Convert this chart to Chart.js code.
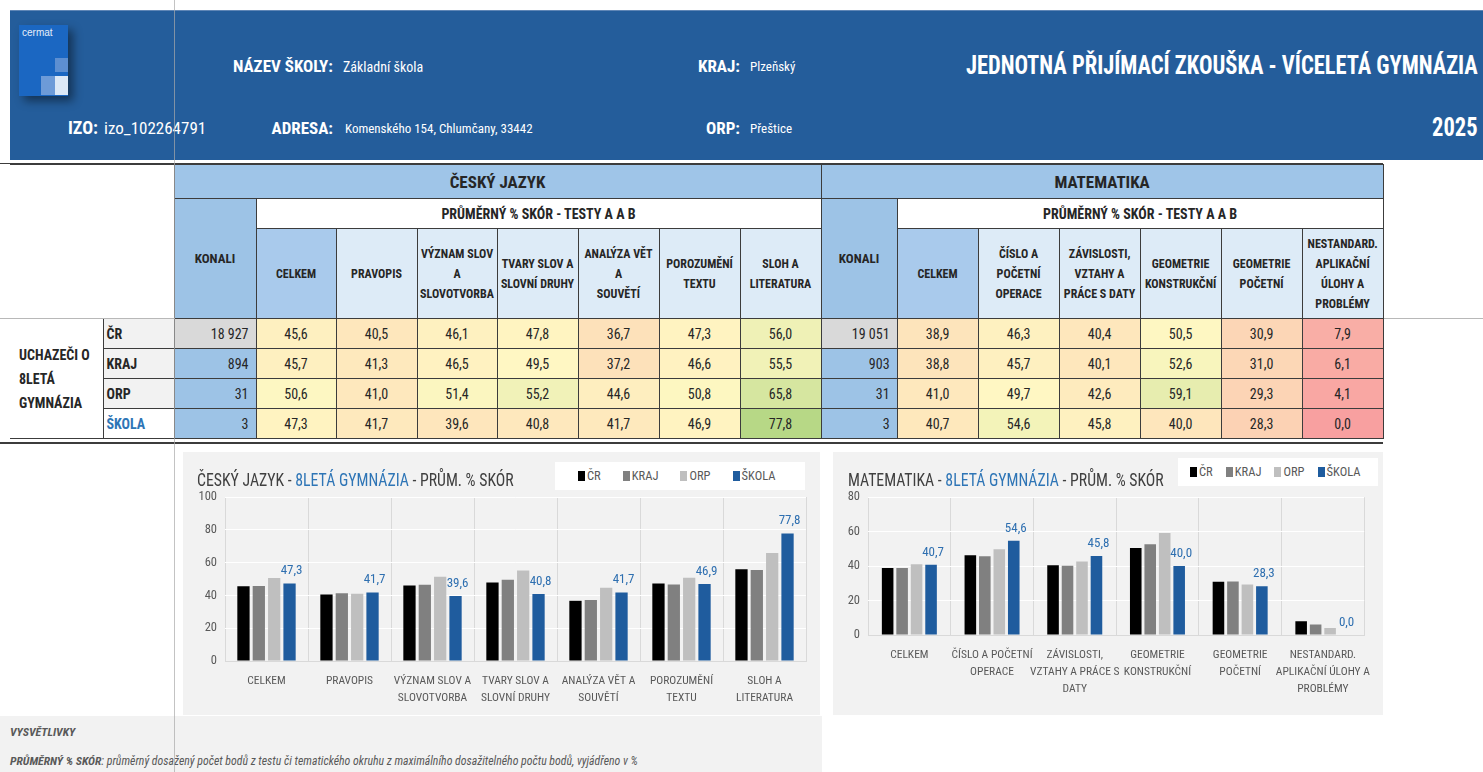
<!DOCTYPE html>
<html lang="cs">
<head>
<meta charset="utf-8">
<title>Jednotná přijímací zkouška - víceletá gymnázia 2025</title>
<script src="https://cdn.jsdelivr.net/npm/chart.js@4.4.1/dist/chart.umd.min.js"></script>
<style>
  body { margin: 0; width: 1483px; height: 772px; overflow: hidden; background: #fff; position: relative;
         font-family: "Liberation Sans Narrow", "Roboto Condensed", "DejaVu Sans Condensed", sans-serif; color: #262626; }
  .abs { position: absolute; white-space: nowrap; }
  #band { left: 10px; top: 10px; width: 1473px; height: 150px; background: #245d9b; border-top: 1px solid #5f86b6; box-sizing: border-box; }
  #logo { left: 19px; top: 25px; width: 49px; height: 71px; background: #1b67c2; box-shadow: 5px 5px 9px rgba(0,0,0,0.45); }
  #logo span { position: absolute; left: 3px; top: 2px; color: #e6eefa; font: 10px "Liberation Sans", Arial, sans-serif; }
  .sq { position: absolute; }
  .hl { color: #fff; font-weight: bold; font-size: 17px; line-height: 20px; }
  .hv { color: #fff; font-size: 14px; line-height: 20px; }
  .big { color: #fff; font-weight: bold; font-size: 25px; line-height: 30px; transform: scaleX(0.9); transform-origin: right center; }

  #tbl { position: absolute; left: 10px; top: 164px; border-collapse: collapse; table-layout: fixed; width: 1373px; }
  #tbl td { border: 1px solid #3c3c3c; padding: 0 2px; text-align: center; overflow: hidden; box-sizing: border-box; }
  #tbl td.blank { border-left: none; border-bottom: 1px solid #b8b8b8; background: #fff; }
  #tbl td.subj { background: #9fc5e8; font-weight: bold; font-size: 17px; }
  #tbl td.avg { background: #fff; font-weight: bold; font-size: 14px; }
  #tbl td.konh { background: #9dc3e6; font-weight: bold; font-size: 13px; vertical-align: middle; }
  #tbl td.hd { background: #ddebf7; font-weight: bold; font-size: 12px; line-height: 20px; }
  #tbl td.hd.tot { background: #a9caec; }
  #tbl td.grp { border-left: none; background: #fff; text-align: left; padding-left: 9px; font-weight: bold; font-size: 14px; line-height: 24px; }
  #tbl td.who { background: #f2f2f2; text-align: left; padding-left: 3px; font-weight: bold; font-size: 14px; }
  #tbl td.who.me { background: #fff; color: #2e75b6; }
  #tbl td.kon { background: #9dc3e6; text-align: right; padding-right: 7px; font-size: 14px; }
  #tbl td.kon.cr { background: #d9d9d9; }
  #tbl td.val { font-size: 14px; }
  .panel { position: absolute; background: #f2f2f2; }
  .ctitle { font-size: 19px; line-height: 24px; color: #404040; transform: scaleX(0.83); transform-origin: left center; }
  .ctitle b { font-weight: normal; color: #2e75b6; }
  .legend { position: absolute; background: #fff; font-size: 12.5px; color: #595959; line-height: 28px; display: flex; white-space: nowrap; box-sizing: border-box; }
  .legend span { white-space: nowrap; }
  .legend i { display: inline-block; width: 7px; height: 10px; margin-right: 2px; vertical-align: -1px; }
  #foot { left: 0; top: 716px; width: 822px; height: 56px; background: #f2f2f2; }
  .ft { font-style: italic; font-size: 11.8px; color: #595959; }
</style>
</head>
<body>

<div id="band" class="abs"></div>
<div id="logo" class="abs"><span>cermat</span>
  <div class="sq" style="left:36px;top:33px;width:13px;height:14px;background:#5d8fd1"></div>
  <div class="sq" style="left:22px;top:51px;width:14px;height:19px;background:#6d9bd8"></div>
  <div class="sq" style="left:36px;top:51px;width:13px;height:19px;background:#dce8f6"></div>
</div>

<div class="abs hl" style="right:1150px;top:56px">NÁZEV ŠKOLY:</div>
<div class="abs hv" style="left:343px;top:57px">Základní škola</div>
<div class="abs hl" style="right:743px;top:56px">KRAJ:</div>
<div class="abs hv" style="left:750px;top:57px;font-size:13px">Plzeňský</div>
<div class="abs big" style="right:5px;top:51px">JEDNOTNÁ PŘIJÍMACÍ ZKOUŠKA - VÍCELETÁ GYMNÁZIA</div>

<div class="abs hl" style="left:68px;top:118px;font-size:18px">IZO:</div>
<div class="abs hv" style="left:104px;top:118px;font-size:17px">izo_102264791</div>
<div class="abs hl" style="right:1150px;top:118px">ADRESA:</div>
<div class="abs hv" style="left:345px;top:119px;font-size:13px">Komenského 154, Chlumčany, 33442</div>
<div class="abs hl" style="right:743px;top:118px">ORP:</div>
<div class="abs hv" style="left:750px;top:119px;font-size:13px">Přeštice</div>
<div class="abs big" style="right:5px;top:113px">2025</div>

<div class="abs" style="left:0;top:318px;width:1483px;height:1px;background:#b8b8b8"></div>
<div class="abs" style="left:0;top:163px;width:1383px;height:1px;background:#3c3c3c"></div>
<table id="tbl"></table>
<div class="abs" style="left:0;top:442px;width:1383px;height:2px;background:#3c3c3c"></div>

<div class="panel" style="left:183px;top:452px;width:637px;height:263px">
  <canvas id="czChart"></canvas>
</div>
<div class="abs ctitle" style="left:197px;top:468px">ČESKÝ JAZYK - <b>8LETÁ GYMNÁZIA</b> - PRŮM. % SKÓR</div>
<div id="czLegend" class="legend" style="left:555px;top:462px;width:250px;height:28px;padding-left:23px;gap:22px"></div>

<div class="panel" style="left:833px;top:452px;width:550px;height:263px">
  <canvas id="mChart"></canvas>
</div>
<div class="abs ctitle" style="left:848px;top:468px">MATEMATIKA - <b>8LETÁ GYMNÁZIA</b> - PRŮM. % SKÓR</div>
<div id="mLegend" class="legend" style="left:1178px;top:458px;width:200px;height:28px;padding-left:12px;gap:13px"></div>

<div id="foot" class="abs"></div>
<div class="abs ft" style="left:10px;top:725px;font-weight:bold">VYSVĚTLIVKY</div>
<div class="abs ft" style="left:10px;top:754px"><b>PRŮMĚRNÝ % SKÓR</b>: průměrný dosažený počet bodů z testu či tematického okruhu z maximálního dosažitelného počtu bodů, vyjádřeno v %</div>

<div class="abs" style="left:174px;top:0;width:1px;height:772px;background:rgba(170,170,170,0.7)"></div>

<script>
const FONT = '"Liberation Sans Narrow", "Roboto Condensed", "DejaVu Sans Condensed", sans-serif';

// skupiny uchazečů
const groups = ['ČR', 'KRAJ', 'ORP', 'ŠKOLA'];
const groupColors = ['#000000', '#808080', '#bfbfbf', '#1f5c9e'];

// český jazyk
const czTableHeads = [['CELKEM'], ['PRAVOPIS'], ['VÝZNAM SLOV', 'A', 'SLOVOTVORBA'], ['TVARY SLOV A', 'SLOVNÍ DRUHY'],
  ['ANALÝZA VĚT A', 'SOUVĚTÍ'], ['POROZUMĚNÍ', 'TEXTU'], ['SLOH A', 'LITERATURA']];
const czLabels = [['CELKEM'], ['PRAVOPIS'], ['VÝZNAM SLOV A', 'SLOVOTVORBA'], ['TVARY SLOV A', 'SLOVNÍ DRUHY'],
  ['ANALÝZA VĚT A', 'SOUVĚTÍ'], ['POROZUMĚNÍ', 'TEXTU'], ['SLOH A', 'LITERATURA']];
const czKonali = ['18 927', '894', '31', '3'];
const czCR = [45.6, 40.5, 46.1, 47.8, 36.7, 47.3, 56.0];
const czKraj = [45.7, 41.3, 46.5, 49.5, 37.2, 46.6, 55.5];
const czOrp = [50.6, 41.0, 51.4, 55.2, 44.6, 50.8, 65.8];
const czSkola = [47.3, 41.7, 39.6, 40.8, 41.7, 46.9, 77.8];
const czTicks = [0, 20, 40, 60, 80, 100];

// matematika
const mTableHeads = [['CELKEM'], ['ČÍSLO A', 'POČETNÍ', 'OPERACE'], ['ZÁVISLOSTI,', 'VZTAHY A', 'PRÁCE S DATY'],
  ['GEOMETRIE', 'KONSTRUKČNÍ'], ['GEOMETRIE', 'POČETNÍ'], ['NESTANDARD.', 'APLIKAČNÍ', 'ÚLOHY A', 'PROBLÉMY']];
const mLabels = [['CELKEM'], ['ČÍSLO A POČETNÍ', 'OPERACE'], ['ZÁVISLOSTI,', 'VZTAHY A PRÁCE S', 'DATY'],
  ['GEOMETRIE', 'KONSTRUKČNÍ'], ['GEOMETRIE', 'POČETNÍ'], ['NESTANDARD.', 'APLIKAČNÍ ÚLOHY A', 'PROBLÉMY']];
const mKonali = ['19 051', '903', '31', '3'];
const mCR = [38.9, 46.3, 40.4, 50.5, 30.9, 7.9];
const mKraj = [38.8, 45.7, 40.1, 52.6, 31.0, 6.1];
const mOrp = [41.0, 49.7, 42.6, 59.1, 29.3, 4.1];
const mSkola = [40.7, 54.6, 45.8, 40.0, 28.3, 0.0];
const mTicks = [0, 20, 40, 60, 80];

const fmt = (v) => v.toFixed(1).replace('.', ',');

// barevná škála buněk (červená - žlutá - zelená)
const scoreColor = (v) => {
	const red = [248, 160, 160], yel = [255, 248, 195], grn = [125, 190, 85];
	let a, b, t;
	if (v <= 50) { a = red; b = yel; t = v / 50; } else { a = yel; b = grn; t = (v - 50) / 50; }
	const c = a.map((x, i) => Math.round(x + (b[i] - x) * t));
	return `rgb(${c[0]},${c[1]},${c[2]})`;
};

const buildTable = () => {
	const widths = [93, 71, 82, 80, 81, 80, 81, 81, 81, 81, 76, 81, 81, 81, 81, 81, 81];
	let h = '<colgroup>' + widths.map((w) => `<col style="width:${w}px">`).join('') + '</colgroup>';
	h += '<tr style="height:34px"><td class="blank" colspan="2" rowspan="3"></td>'
		+ `<td class="subj" colspan="${czTableHeads.length + 1}">ČESKÝ JAZYK</td>`
		+ `<td class="subj" colspan="${mTableHeads.length + 1}">MATEMATIKA</td></tr>`;
	h += '<tr style="height:30px"><td class="konh" rowspan="2">KONALI</td>'
		+ `<td class="avg" colspan="${czTableHeads.length}">PRŮMĚRNÝ % SKÓR - TESTY A A B</td>`
		+ '<td class="konh" rowspan="2">KONALI</td>'
		+ `<td class="avg" colspan="${mTableHeads.length}">PRŮMĚRNÝ % SKÓR - TESTY A A B</td></tr>`;
	const head = (lines, i) => `<td class="hd${i === 0 ? ' tot' : ''}">${lines.join('<br>')}</td>`;
	h += '<tr style="height:90px">' + czTableHeads.map(head).join('') + mTableHeads.map(head).join('') + '</tr>';
	const cz = [czCR, czKraj, czOrp, czSkola];
	const m = [mCR, mKraj, mOrp, mSkola];
	groups.forEach((g, r) => {
		h += '<tr style="height:30px">';
		if (r === 0) h += `<td class="grp" rowspan="${groups.length}">UCHAZEČI O<br>8LETÁ<br>GYMNÁZIA</td>`;
		h += `<td class="who${r === 3 ? ' me' : ''}">${g}</td>`;
		h += `<td class="kon${r === 0 ? ' cr' : ''}">${czKonali[r]}</td>`;
		cz[r].forEach((v) => { h += `<td class="val" style="background:${scoreColor(v)}">${fmt(v)}</td>`; });
		h += `<td class="kon${r === 0 ? ' cr' : ''}">${mKonali[r]}</td>`;
		m[r].forEach((v) => { h += `<td class="val" style="background:${scoreColor(v)}">${fmt(v)}</td>`; });
		h += '</tr>';
	});
	document.getElementById('tbl').innerHTML = h;
};

const buildLegend = (id) => {
	const el = document.getElementById(id);
	el.innerHTML = groups.map((g, i) =>
		`<span><i style="background:${groupColors[i]}"></i>${g}</span>`).join('');
};

// popisky hodnot jen pro školu
const schoolLabels = {
	id: 'schoolLabels',
	afterDatasetsDraw(chart) {
		const ds = chart.data.datasets.length - 1;
		const meta = chart.getDatasetMeta(ds);
		const ctx = chart.ctx;
		ctx.save();
		ctx.font = '13px ' + FONT;
		ctx.fillStyle = '#2e6fb0';
		ctx.textAlign = 'center';
		ctx.textBaseline = 'bottom';
		meta.data.forEach((bar, i) => {
			ctx.fillText(fmt(chart.data.datasets[ds].data[i]), bar.x + 2, bar.y - 6);
		});
		ctx.restore();
	},
};

const creatinChart = (canvasId, labels, series, ticks, box) => {
	const ctx = document.getElementById(canvasId);
	new Chart(ctx, {
		type: 'bar',
		data: {
			labels: labels,
			datasets: series.map((data, i) => ({
				label: groups[i],
				data: data,
				backgroundColor: groupColors[i],
				categoryPercentage: box.cat,
				barPercentage: 0.8,
			})),
		},
		options: {
			responsive: true,
			maintainAspectRatio: false,
			animation: false,
			layout: { padding: { top: 45, right: box.right, left: 0, bottom: 0 } },
			plugins: { legend: { display: false }, tooltip: { enabled: false } },
			scales: {
				x: {
					grid: { color: '#d9d9d9', drawTicks: false },
					border: { color: '#d9d9d9' },
					ticks: { color: '#595959', font: { size: 11.5, lineHeight: 1.45 }, padding: 12, maxRotation: 0, autoSkip: false },
					afterFit: (s) => { s.height = box.xh; },
				},
				y: {
					min: ticks[0],
					max: ticks[ticks.length - 1],
					grid: { color: '#ffffff', drawTicks: false },
					border: { display: false },
					ticks: { stepSize: ticks[1] - ticks[0], color: '#595959', font: { size: 12.5 }, padding: 8 },
					afterFit: (s) => { s.width = box.yw; },
				},
			},
		},
		plugins: [schoolLabels],
	});
};

Chart.defaults.font.family = FONT;
buildTable();
buildLegend('czLegend');
buildLegend('mLegend');
creatinChart('czChart', czLabels, [czCR, czKraj, czOrp, czSkola], czTicks, { right: 14, yw: 42, xh: 54, cat: 0.74 });
creatinChart('mChart', mLabels, [mCR, mKraj, mOrp, mSkola], mTicks, { right: 13, yw: 35, xh: 80, cat: 0.7 });
</script>
</body>
</html>
